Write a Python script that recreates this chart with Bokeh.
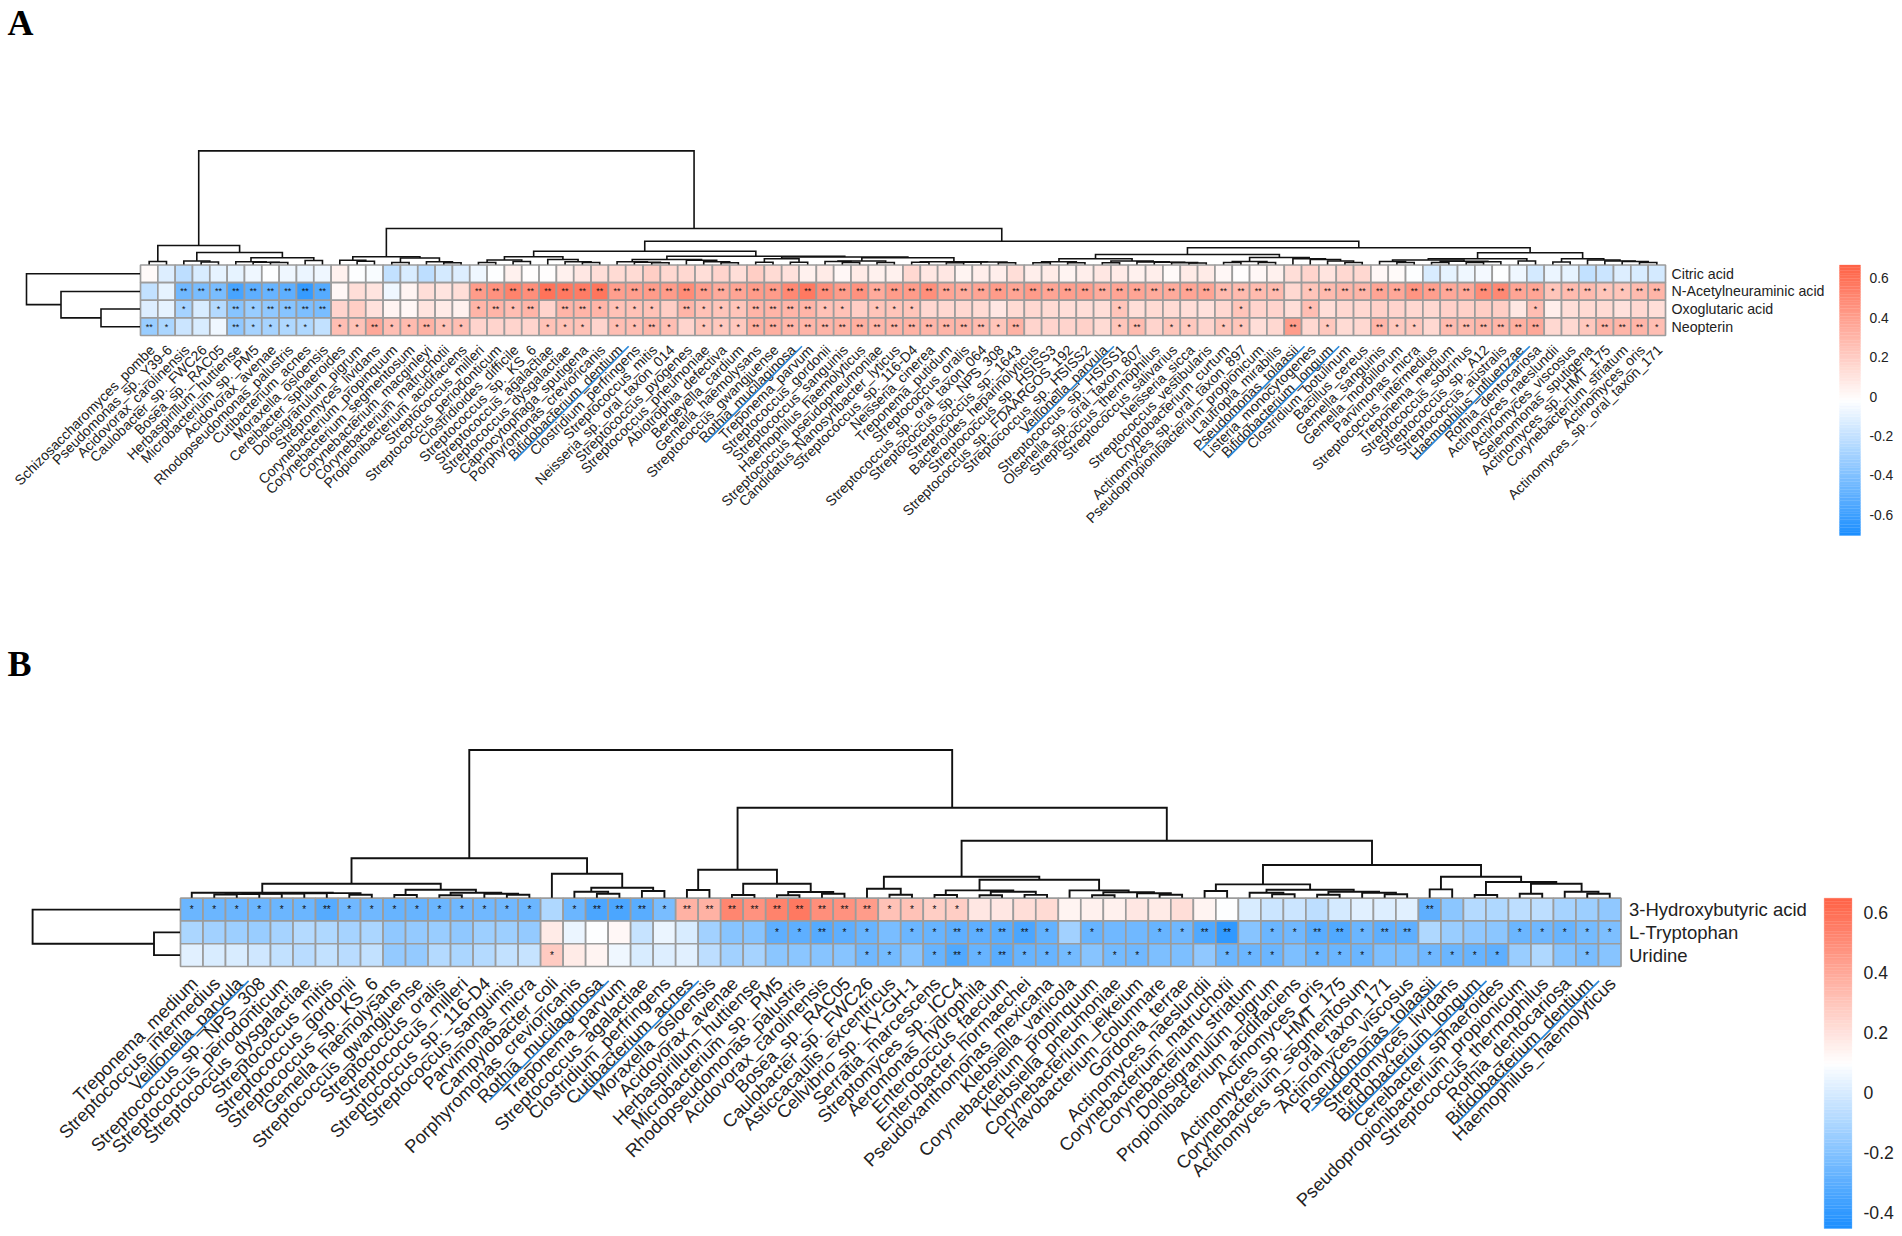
from bokeh.plotting import figure
from bokeh.embed import file_html
from bokeh.resources import INLINE
from bokeh.models import ColumnDataSource, LinearColorMapper
from bokeh.core.properties import value
import math

# ---------- Panel A data ----------
a_rows = ["Citric acid", "N-Acetylneuraminic acid", "Oxoglutaric acid", "Neopterin"]
a_cols = ["Schizosaccharomyces_pombe","Pseudomonas_sp._Y39-6","Acidovorax_carolinensis","Caulobacter_sp._FWC26","Bosea_sp._RAC05","Herbaspirillum_huttiense","Microbacterium_sp._PM5","Acidovorax_avenae","Rhodopseudomonas_palustris","Cutibacterium_acnes","Moraxella_osloensis","Cereibacter_sphaeroides","Dolosigranulum_pigrum","Streptomyces_lividans","Corynebacterium_propinquum","Corynebacterium_segmentosum","Corynebacterium_macginleyi","Corynebacterium_matruchotii","Propionibacterium_acidifaciens","Streptococcus_milleri","Streptococcus_periodonticum","Clostridioides_difficile","Streptococcus_sp._KS_6","Streptococcus_agalactiae","Streptococcus_dysgalactiae","Capnocytophaga_sputigena","Porphyromonas_crevioricanis","Bifidobacterium_dentium","Clostridium_perfringens","Streptococcus_mitis","Neisseria_sp._oral_taxon_014","Streptococcus_pyogenes","Streptococcus_pneumoniae","Abiotrophia_defectiva","Bergeyella_cardium","Gemella_haemolysans","Streptococcus_gwangjuense","Rothia_mucilaginosa","Treponema_parvum","Streptococcus_gordonii","Streptococcus_sanguinis","Haemophilus_haemolyticus","Streptococcus_pseudopneumoniae","Candidatus_Nanosynbacter_lyticus","Streptococcus_sp._116-D4","Neisseria_cinerea","Treponema_putidum","Streptococcus_oralis","Streptococcus_sp._oral_taxon_064","Streptococcus_sp._NPS_308","Streptococcus_sp._1643","Bacteroides_heparinolyticus","Streptococcus_sp._HSISS3","Streptococcus_sp._FDAARGOS_192","Streptococcus_sp._HSISS2","Veillonella_parvula","Streptococcus_sp._HSISS1","Olsenella_sp._oral_taxon_807","Streptococcus_thermophilus","Streptococcus_salivarius","Neisseria_sicca","Streptococcus_vestibularis","Cryptobacterium_curtum","Actinomyces_sp._oral_taxon_897","Pseudopropionibacterium_propionicum","Lautropia_mirabilis","Pseudomonas_tolaasii","Listeria_monocytogenes","Bifidobacterium_longum","Clostridium_botulinum","Bacillus_cereus","Gemella_sanguinis","Gemella_morbillorum","Parvimonas_micra","Streptococcus_intermedius","Treponema_medium","Streptococcus_sobrinus","Streptococcus_sp._A12","Streptococcus_australis","Haemophilus_influenzae","Rothia_dentocariosa","Actinomyces_naeslundii","Actinomyces_viscosus","Selenomonas_sputigena","Actinomyces_sp._HMT_175","Corynebacterium_striatum","Actinomyces_oris","Actinomyces_sp._oral_taxon_171"]
a_blue = ["Bifidobacterium_dentium","Rothia_mucilaginosa","Veillonella_parvula","Pseudomonas_tolaasii","Bifidobacterium_longum","Haemophilus_influenzae"]

a_citric = [0.0,-0.12,-0.22,-0.14,-0.1,-0.1,-0.06,-0.03,-0.06,-0.08,-0.06,0.05,-0.03,-0.04,-0.2,-0.14,-0.22,-0.15,-0.12,-0.07,-0.02,0.05,-0.01,-0.01,0.05,0.08,0.12,0.14,0.14,0.2,
 0.15,0.15,0.13,0.17,0.13,0.2,0.14,0.11,0.04,0.07,0.01,0.07,0.04,0.04,0.15,0.08,0.09,0.03,0.06,0.06,0.12,0.06,0.07,0.03,0.06,0.09,0.07,0.05,0.06,
 0.0,0.07,0.07,0.01,-0.01,0.02,0.05,0.12,0.17,0.1,0.15,0.15,0.02,0.0,-0.02,-0.13,-0.09,-0.07,-0.05,-0.02,-0.07,-0.15,-0.08,-0.1,-0.2,-0.17,-0.12,-0.14,-0.15]
a_nac = [-0.2,-0.09,-0.45,-0.42,-0.43,-0.57,-0.5,-0.48,-0.5,-0.63,-0.53,0.02,0.13,0.1,-0.06,0.03,0.13,0.1,0.12,0.42,0.45,0.52,0.47,0.6,0.57,0.55,0.58,0.4,0.4,0.42,
 0.42,0.48,0.4,0.35,0.37,0.42,0.42,0.5,0.56,0.47,0.42,0.45,0.35,0.42,0.42,0.47,0.37,0.35,0.38,0.42,0.38,0.42,0.37,0.4,0.4,0.34,0.37,0.37,0.35,
 0.34,0.38,0.38,0.28,0.28,0.28,0.28,0.16,0.24,0.28,0.3,0.3,0.38,0.36,0.44,0.4,0.36,0.36,0.48,0.5,0.38,0.38,0.24,0.28,0.28,0.24,0.24,0.28,0.3]
a_oxo = [-0.12,-0.1,-0.28,-0.14,-0.25,-0.38,-0.33,-0.36,-0.38,-0.41,-0.42,0.17,0.2,0.11,0.03,0.02,0.1,0.07,0.04,0.3,0.3,0.27,0.3,0.17,0.3,0.3,0.3,0.25,0.25,0.25,
 0.2,0.3,0.25,0.23,0.23,0.3,0.3,0.3,0.3,0.25,0.25,0.2,0.23,0.24,0.24,0.16,0.16,0.15,0.14,0.09,0.14,0.15,0.14,0.13,0.13,0.13,0.23,0.13,0.14,
 0.14,0.12,0.11,0.16,0.24,0.17,0.17,0.13,0.26,0.13,0.15,0.15,0.18,0.17,0.16,0.16,0.18,0.18,0.2,0.19,0.09,0.26,0.06,0.13,0.14,0.14,0.11,0.15,0.13]
a_neo = [-0.33,-0.27,-0.18,-0.13,-0.07,-0.36,-0.28,-0.28,-0.26,-0.26,-0.2,0.27,0.25,0.36,0.27,0.28,0.32,0.25,0.27,0.17,0.17,0.17,0.17,0.25,0.25,0.25,0.17,0.27,0.27,0.3,
 0.27,0.17,0.24,0.22,0.22,0.33,0.33,0.3,0.3,0.3,0.32,0.33,0.3,0.3,0.32,0.3,0.3,0.3,0.28,0.24,0.32,0.17,0.17,0.17,0.18,0.14,0.24,0.28,0.17,
 0.24,0.22,0.17,0.24,0.24,0.12,0.15,0.42,0.16,0.22,0.14,0.16,0.3,0.22,0.22,0.16,0.28,0.28,0.3,0.3,0.33,0.36,0.16,0.16,0.22,0.3,0.3,0.3,0.26]
a_citric_sig = [0]*88
a_nac_sig = [0,0,2,2,2,2,2,2,2,2,2,0,0,0,0,0,0,0,0]+[2]*47+[0,1]+[2]*13+[1,2,2,1,1,2,2]
a_oxo_sig = [0,0,1,0,1,2,1,2,2,2,2,0,0,0,0,0,0,0,0,1,2,1,2,0,2,2,1,1,1,1,
 0,2,1,1,1,2,2,2,2,1,1,0,1,1,1,0,0,0,0,0,0,0,0,0,0,0,1,0,0,
 0,0,0,0,1,0,0,0,1,0,0,0,0,0,0,0,0,0,0,0,0,1,0,0,0,0,0,0,0]
a_neo_sig = [2,1,0,0,0,2,1,1,1,1,0,1,1,2,1,1,2,1,1,0,0,0,0,1,1,1,0,1,1,2,
 1,0,1,1,1,2,2,2,2,2,2,2,2,2,2,2,2,2,2,1,2,0,0,0,0,0,1,2,0,
 1,1,0,1,1,0,0,2,0,1,0,0,2,1,1,0,2,2,2,2,2,2,0,0,1,2,2,2,1]
a_ticks = [0.6, 0.4, 0.2, 0, -0.2, -0.4, -0.6]
a_low, a_high = -0.706, 0.669

# Dendrograms: (height, left, right), leaves are 1-based column numbers
a_tree = (113.6,
  (19,(3,1,2),(12,(3.5,3,(2.5,4,5)),(6.7,(2.7,6,(2.3,7,(2,8,9))),(4,10,11)))),
  (36,
    (7.7,(4.3,12,(3.3,13,14)),(6.5,(2,15,16),(2.7,17,(1.7,18,19)))),
    (23.3,
      (13.3,
        (7.7,(4.5,(2,20,21),(3,22,23)),(5,24,(2.7,25,(2,26,27)))),
        (8.3,
          (5,(2.7,28,(2.3,29,(1.8,30,31))),(4.3,32,(2.8,33,(1.8,34,35)))),
          (7.5,(5.7,(2.3,36,37),(2.3,38,39)),
               (6.7,(3.5,(3,40,(2,41,42)),(2,43,44)),
                    (2.8,(2.2,45,46),(2.5,(2.2,(1.8,47,48),49),(1.8,50,51))))))),
      (16.7,
        (10,(5.7,(2.7,(1.8,52,53),(1.8,54,55)),(3.5,(1.8,56,57),(2.6,58,(2.3,59,(1.9,60,(1.5,61,62)))))),
            (7,(3,(2,63,64),(2,65,66)),(5.7,67,(5,68,(3.5,69,(2,70,71)))))),
        (11.7,
          (5.7,(4.5,(3,72,(2,73,74)),(3.3,(2,75,76),(2.8,(2,77,78),79))),(3.5,80,81)),
          (5.7,(2.5,82,83),(4.5,84,(3.5,85,(3,86,(2,87,88))))))))))
a_row_tree = (113.5,0,(79,1,(39,2,3)))

# ---------- Panel B data ----------
b_rows = ["3-Hydroxybutyric acid", "L-Tryptophan", "Uridine"]
b_cols = ["Treponema_medium","Streptococcus_intermedius","Veillonella_parvula","Streptococcus_sp._NPS_308","Streptococcus_periodonticum","Streptococcus_dysgalactiae","Streptococcus_mitis","Streptococcus_gordonii","Streptococcus_sp._KS_6","Gemella_haemolysans","Streptococcus_gwangjuense","Streptococcus_oralis","Streptococcus_milleri","Streptococcus_sp._116-D4","Streptococcus_sanguinis","Parvimonas_micra","Campylobacter_coli","Porphyromonas_crevioricanis","Rothia_mucilaginosa","Treponema_parvum","Streptococcus_agalactiae","Clostridium_perfringens","Cutibacterium_acnes","Moraxella_osloensis","Acidovorax_avenae","Herbaspirillum_huttiense","Microbacterium_sp._PM5","Rhodopseudomonas_palustris","Acidovorax_carolinensis","Bosea_sp._RAC05","Caulobacter_sp._FWC26","Asticcacaulis_excentricus","Cellvibrio_sp._KY-GH-1","Serratia_marcescens","Streptomyces_sp._ICC4","Aeromonas_hydrophila","Enterococcus_faecium","Enterobacter_hormaechei","Pseudoxanthomonas_mexicana","Klebsiella_variicola","Corynebacterium_propinquum","Klebsiella_pneumoniae","Corynebacterium_jeikeium","Flavobacterium_columnare","Gordonia_terrae","Actinomyces_naeslundii","Corynebacterium_matruchotii","Corynebacterium_striatum","Dolosigranulum_pigrum","Propionibacterium_acidifaciens","Actinomyces_oris","Actinomyces_sp._HMT_175","Corynebacterium_segmentosum","Actinomyces_sp._oral_taxon_171","Actinomyces_viscosus","Pseudomonas_tolaasii","Streptomyces_lividans","Bifidobacterium_longum","Cereibacter_sphaeroides","Pseudopropionibacterium_propionicum","Streptococcus_thermophilus","Rothia_dentocariosa","Bifidobacterium_dentium","Haemophilus_haemolyticus"]
b_blue = ["Veillonella_parvula","Rothia_mucilaginosa","Cutibacterium_acnes","Pseudomonas_tolaasii","Bifidobacterium_longum","Bifidobacterium_dentium"]

b_hydroxy = [-0.26,-0.26,-0.26,-0.26,-0.26,-0.26,-0.32,-0.25,-0.25,-0.27,-0.27,-0.26,-0.25,-0.25,-0.25,-0.26,-0.1,-0.26,-0.34,-0.34,-0.31,-0.23,
 0.37,0.37,0.52,0.48,0.53,0.56,0.49,0.48,0.44,0.31,0.31,0.27,0.27,0.18,0.18,0.21,0.22,0.14,0.15,0.15,0.18,0.17,
 0.21,0.13,0.09,0.0,-0.03,-0.03,-0.06,-0.01,0.02,0.01,0.02,-0.3,-0.19,-0.09,-0.1,-0.06,-0.06,-0.12,-0.14,-0.17]
b_tryp = [-0.11,-0.13,-0.14,-0.15,-0.12,-0.09,-0.1,-0.12,-0.11,-0.17,-0.16,-0.15,-0.17,-0.14,-0.14,-0.16,0.17,0.05,0.09,0.12,-0.04,0.05,
 0.0,-0.13,-0.2,-0.2,-0.3,-0.3,-0.32,-0.29,-0.27,-0.23,-0.26,-0.27,-0.3,-0.3,-0.31,-0.34,-0.28,-0.13,-0.27,-0.25,-0.25,-0.27,
 -0.25,-0.33,-0.41,-0.2,-0.26,-0.25,-0.31,-0.33,-0.26,-0.29,-0.29,-0.1,-0.15,-0.17,-0.18,-0.26,-0.25,-0.27,-0.24,-0.22]
b_uri = [0.03,0.0,0.0,-0.02,-0.05,-0.07,-0.05,-0.07,-0.05,-0.16,-0.16,-0.09,-0.11,-0.09,-0.05,-0.04,0.28,0.17,0.13,0.06,0.0,0.01,
 0.03,-0.06,-0.13,-0.12,-0.18,-0.18,-0.2,-0.2,-0.25,-0.24,-0.2,-0.27,-0.33,-0.27,-0.31,-0.27,-0.27,-0.24,-0.2,-0.24,-0.25,-0.22,
 -0.22,-0.17,-0.26,-0.26,-0.26,-0.22,-0.26,-0.26,-0.26,-0.22,-0.22,-0.25,-0.26,-0.27,-0.29,-0.15,-0.1,-0.2,-0.23,-0.2]
b_hydroxy_sig = [1]*6+[2]+[1]*9+[0,1,2,2,2,1]+[2]*9+[1]*4+[0]*20+[2]+[0]*8
b_tryp_sig = [0]*26+[1,1,2,1,1,0,1,1,2,2,2,2,1,0,1,0,0,1,
 1,2,2,0,1,1,2,2,1,2,2,0,0,0,0,1,1,1,1,1]
b_uri_sig = [0]*16+[1]+[0]*13+[1,1,0,1,2,1,2,1,1,1,0,1,1,0,
 0,0,1,1,1,0,1,1,1,0,0,1,1,1,1,0,0,0,1,0]
b_ticks = [0.6, 0.4, 0.2, 0, -0.2, -0.4]
b_low, b_high = -0.455, 0.648

b_tree = (147.7,
  (39.4,
    (14,
      (5,1,(4.6,(4.4,(4.2,(4,(3.6,(3.2,2,3),4),5),6),7),(3,8,9))),
      (8,(2.7,10,11),(5,(2.5,12,13),(4,14,(3,15,16))))),
    (24,17,(10,(6,18,(4,19,20)),(6.7,21,22)))),
  (90,
    (28,(7.7,23,24),(14,(2.7,25,26),(5.7,(2.5,27,28),(4,29,30)))),
    (57,
      (21,(9,31,(3,32,33)),
          (18,(7.3,(2.7,34,35),(6,(2.5,36,37),(2.8,38,39))),
              (7.3,40,(5.5,(2.5,41,42),(4.5,43,(3,44,45)))))),
      (32.7,
        (13.3,(6.7,46,47),(8,(5,48,(3.5,49,50)),(6,(3,51,52),(5,53,(3.5,54,55))))),
        (21,(8.3,56,57),(15.7,(2.7,58,59),(14,(4,60,61),(6,62,(4,63,64)))))))))
b_row_tree = (147.4,0,(26,1,2))

# ---------- Drawing ----------
def three_stop(n=100):
    stops = [(0x1E,0x90,0xFF),(255,255,255),(0xFF,0x63,0x47)]
    out = []
    for i in range(n):
        t = i/(n-1)*2
        a,b = (stops[0],stops[1]) if t<=1 else (stops[1],stops[2])
        f = t if t<=1 else t-1
        out.append("#%02x%02x%02x" % tuple(round(a[k]+(b[k]-a[k])*f) for k in range(3)))
    return out
palette = three_stop()

p = figure(width=1900, height=1234, x_range=(0,1900), y_range=(1234,0),
           output_backend="svg", toolbar_location=None, min_border=0)
p.axis.visible = False
p.grid.visible = False
p.outline_line_color = None

def est_width(s):
    w = 0
    for c in s:
        if c in "iljI": w += .222
        elif c in "t.,-frJ": w += .30
        elif c in "m": w += .833
        elif c.isupper(): w += .69
        elif c in "csyvxzk": w += .5
        else: w += .556
    return w

def tree_lines(tree, pos, base, horizontal):
    xs, ys = [], []
    def walk(n):
        if not isinstance(n, tuple):
            return pos(n), 0
        h, l, r = n
        pl, hl = walk(l)
        pr, hr = walk(r)
        a = [base - hl, base - h, base - h, base - hr]
        b = [pl, pl, pr, pr]
        if horizontal:
            xs.append(b); ys.append(a)
        else:
            xs.append(a); ys.append(b)
        return (pl + pr)/2, h
    walk(tree)
    return xs, ys

def panel(rows, cols, matrix, sig, blue, low, high, ticks, tree, row_tree,
          left, right, top, bottom, cb_left, cb_right, cb_top, cb_bottom, cb_y0, cb_step,
          lab_fs, row_fs, tick_fs, star_fs, row_x, tick_x, lab_dx, lab_dy, ul_along, ul_perp, ul_f, dend_w):
    nc, nr = len(cols), len(rows)
    cw, ch = (right-left)/nc, (bottom-top)/nr
    mapper = LinearColorMapper(palette=palette, low=low, high=high)
    L,R,T,B,V = [],[],[],[],[]
    sx,sy,st = [],[],[]
    for r in range(nr):
        for c in range(nc):
            L.append(left+c*cw); R.append(left+(c+1)*cw)
            T.append(top+r*ch); B.append(top+(r+1)*ch)
            V.append(matrix[r][c])
            if sig[r][c]:
                sx.append(left+(c+.5)*cw); sy.append(top+(r+.5)*ch)
                st.append("*"*sig[r][c])
    p.quad(left="l", right="r", top="t", bottom="b",
           source=ColumnDataSource(dict(l=L,r=R,t=T,b=B,v=V)),
           fill_color={"field":"v","transform":mapper},
           line_color="#9c9c9c", line_width=1.7)
    p.text(x=sx, y=sy, text=st, text_font=value("Liberation Sans"),
           text_font_size=f"{star_fs}px", text_align="center", text_baseline="middle",
           text_color="#111111")
    p.text(x=[row_x]*nr, y=[top+(r+.5)*ch for r in range(nr)], text=rows,
           text_font=value("Liberation Sans"), text_font_size=f"{row_fs}px",
           text_align="left", text_baseline="middle", text_color="#222222")
    lx = [left+(c+.5)*cw+lab_dx for c in range(nc)]
    ly = [bottom+lab_dy]*nc
    p.text(x=lx, y=ly, text=cols, angle=45, angle_units="deg",
           text_font=value("Liberation Sans"), text_font_size=f"{lab_fs}px",
           text_align="right", text_baseline="middle", text_color="#222222")
    q = math.sqrt(.5)
    xs, ys = [], []
    for name in blue:
        c = cols.index(name)
        ax = lx[c]+(ul_along+ul_perp)*q
        ay = ly[c]+(ul_perp-ul_along)*q
        ln = est_width(name)*lab_fs*ul_f
        xs.append([ax, ax-ln*q]); ys.append([ay, ay+ln*q])
    p.multi_line(xs, ys, line_color="#2b88d8", line_width=1.7)
    xs, ys = tree_lines(tree, lambda i: left+(i-.5)*cw, top-0.5, True)
    p.multi_line(xs, ys, line_color="#111111", line_width=dend_w, line_join="miter")
    xs, ys = tree_lines(row_tree, lambda i: top+(i+.5)*ch, left-0.5, False)
    p.multi_line(xs, ys, line_color="#111111", line_width=dend_w, line_join="miter")
    n = len(palette)
    bh = (cb_bottom-cb_top)/n
    p.quad(left=cb_left, right=cb_right,
           top=[cb_bottom-(i+1)*bh for i in range(n)],
           bottom=[cb_bottom-i*bh for i in range(n)],
           fill_color=palette, line_color=palette, line_width=0.3)
    p.text(x=[tick_x]*len(ticks), y=[cb_y0 - t/0.2*cb_step for t in ticks],
           text=[("%g" % t) for t in ticks], text_font=value("Liberation Sans"),
           text_font_size=f"{tick_fs}px", text_align="left", text_baseline="middle",
           text_color="#222222")

panel(a_rows, a_cols, [a_citric,a_nac,a_oxo,a_neo],
      [a_citric_sig,a_nac_sig,a_oxo_sig,a_neo_sig], a_blue, a_low, a_high, a_ticks,
      a_tree, a_row_tree,
      140, 1665, 264.5, 335, 1839, 1860, 264.5, 535, 396, 39.4,
      14.1, 14.2, 13.8, 9, 1671, 1869, 3, 12, 7, 5.2, 1.04, 1.6)
panel(b_rows, b_cols, [b_hydroxy,b_tryp,b_uri],
      [b_hydroxy_sig,b_tryp_sig,b_uri_sig], b_blue, b_low, b_high, b_ticks,
      b_tree, b_row_tree,
      180, 1620.5, 897.7, 966, 1823.7, 1851.4, 897.7, 1228, 1091.7, 59.9,
      18.2, 18.5, 17.6, 10, 1628.5, 1863, 3, 14, 6, 6.5, 1.0, 1.9)

p.text(x=[7,7], y=[22,663], text=["A","B"], text_font=value("Liberation Serif"),
       text_font_size="36px", text_font_style="bold", text_align="left",
       text_baseline="alphabetic", text_color="#000000")

open("out.html","w").write(file_html(p, INLINE))
